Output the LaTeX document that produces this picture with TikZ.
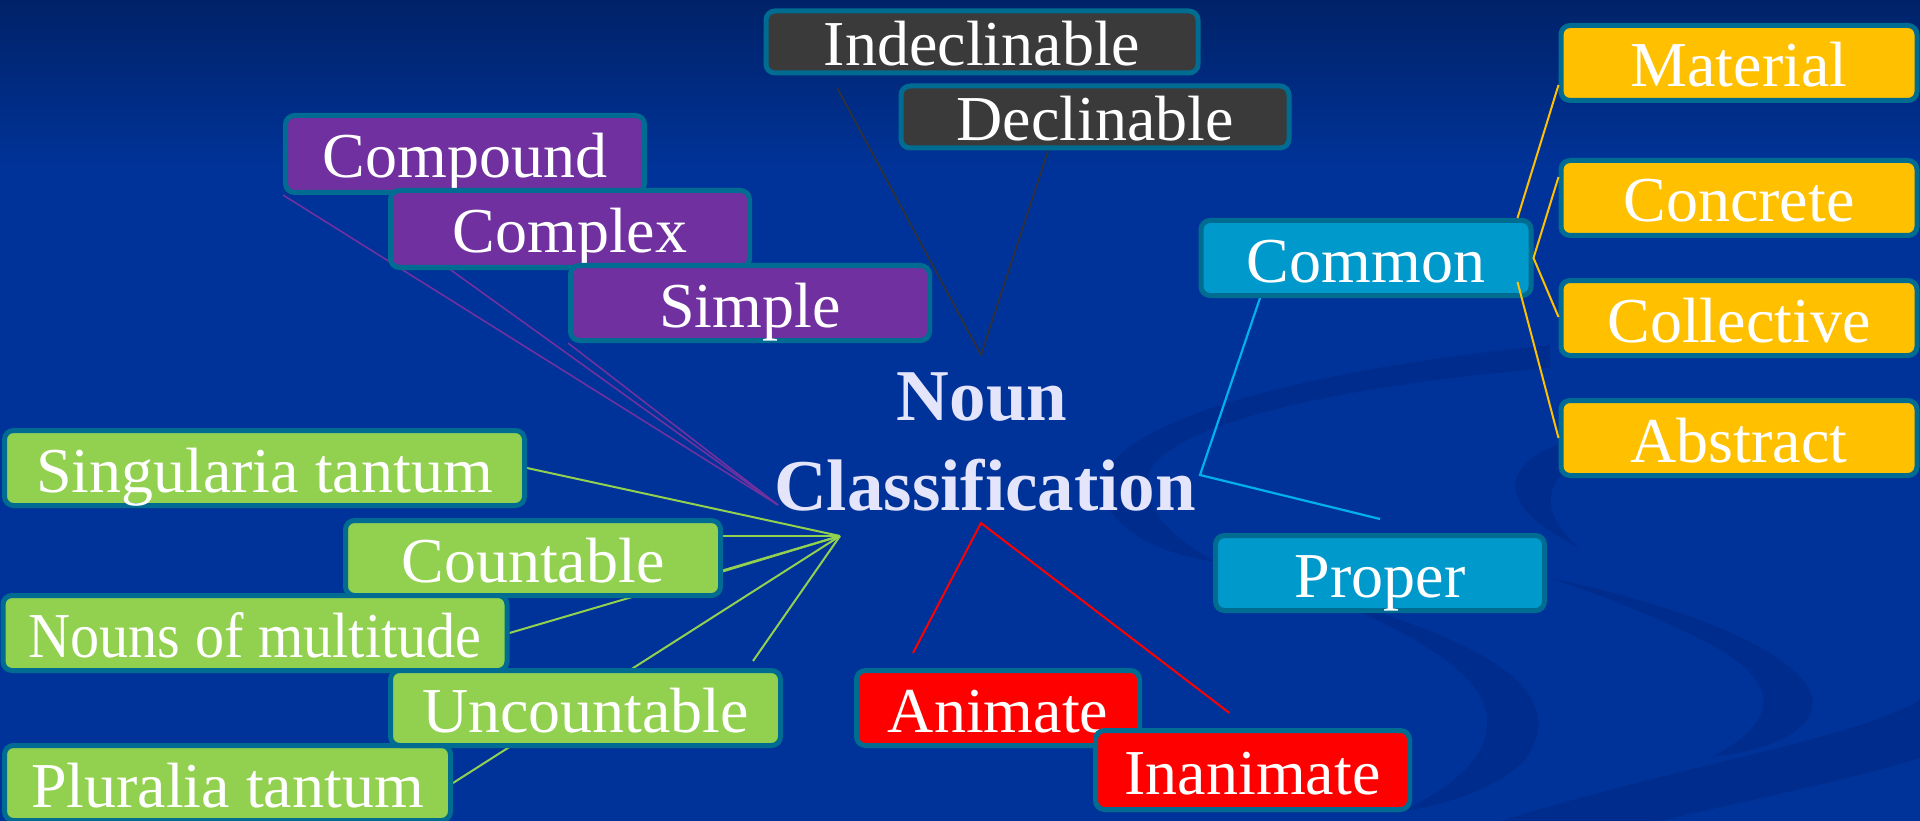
\documentclass[tikz,border=0pt]{standalone}
\usepackage{fontspec}
\setmainfont{Liberation Serif}
\usetikzlibrary{calc}
\pgfdeclarelayer{bg}
\pgfdeclarelayer{lines}
\pgfsetlayers{bg,lines,main}
\definecolor{bgblue}{RGB}{0,51,153}
\definecolor{bgtop}{RGB}{0,34,104}
\definecolor{swirlc}{RGB}{0,45,141}
\definecolor{bordc}{RGB}{0,108,145}
\definecolor{cgray}{RGB}{58,58,58}
\definecolor{cpurple}{RGB}{112,48,160}
\definecolor{cblue}{RGB}{0,153,204}
\definecolor{cyellow}{RGB}{255,192,0}
\definecolor{cgreen}{RGB}{146,208,80}
\definecolor{cred}{RGB}{255,0,0}
\definecolor{ccyan}{RGB}{0,176,240}
\definecolor{gline}{RGB}{50,50,50}
\definecolor{titlec}{RGB}{228,228,250}
\begin{document}
\begin{tikzpicture}[x=1pt,y=-1pt,
  box/.style={draw=bordc, line width=5pt, rounded corners=9pt, inner sep=0pt,
    text=white, font=\fontsize{64}{70}\selectfont, text height=48pt, text depth=0pt},
  ttl/.style={text=titlec, font=\fontsize{73}{80}\selectfont\bfseries, inner sep=0pt, anchor=base},
  swirl/.style={fill=swirlc},
  grayln/.style={draw=gline, line width=1.6pt},
  purpln/.style={draw=cpurple, line width=1.6pt},
  grnln/.style={draw=cgreen, line width=2pt},
  cyanln/.style={draw=ccyan, line width=2.2pt},
  redln/.style={draw=cred, line width=2pt},
  yelln/.style={draw=cyellow, line width=2pt}]
\useasboundingbox (0,0) rectangle (1920,821);
\begin{pgfonlayer}{bg}
  \fill[bgblue] (0,0) rectangle (1920,821);
  \shade[top color=bgtop, bottom color=bgblue] (0,0) rectangle (1920,170);
  % faint swirl shapes
  \path[swirl] (1550,345) .. controls (1250,375) and (1060,440) .. (1110,510)
     .. controls (1130,540) and (1170,555) .. (1215,562)
     .. controls (1160,530) and (1140,500) .. (1150,470)
     .. controls (1180,420) and (1350,385) .. (1550,368) -- cycle;
  \path[swirl] (1330,598) .. controls (1480,640) and (1575,690) .. (1525,760)
     .. controls (1495,790) and (1445,805) .. (1400,812)
     .. controls (1470,780) and (1500,740) .. (1482,700)
     .. controls (1462,660) and (1400,630) .. (1330,598) -- cycle;
  \path[swirl] (1610,430) .. controls (1500,450) and (1480,500) .. (1580,548)
     .. controls (1535,510) and (1540,470) .. (1610,448) -- cycle;
  \path[swirl] (1550,578) .. controls (1750,620) and (1870,690) .. (1785,738)
     .. controls (1765,748) and (1738,754) .. (1712,757)
     .. controls (1782,720) and (1782,680) .. (1702,640)
     .. controls (1652,615) and (1600,595) .. (1550,578) -- cycle;
  \path[swirl] (1500,821) .. controls (1700,760) and (1850,740) .. (1920,700)
     -- (1920,758) .. controls (1850,780) and (1750,800) .. (1660,821) -- cycle;
\end{pgfonlayer}

% title
\node[ttl] (nounT) at (982,420) {Noun};
\node[ttl] (classT) at (985,510) {Classification};

% boxes
\node[box, fill=cgray, minimum width=432pt, minimum height=62pt] (indecl) at (982,42) {Indeclinable};
\node[box, fill=cgray, minimum width=388pt, minimum height=62pt] (decl) at (1095,117) {Declinable};
\node[box, fill=cpurple, minimum width=359pt, minimum height=77pt] (compound) at (465,154) {Compound};
\node[box, fill=cpurple, minimum width=359pt, minimum height=77pt] (complex) at (570,229) {Complex};
\node[box, fill=cpurple, minimum width=359pt, minimum height=75pt] (simple) at (750,303) {Simple};
\node[box, fill=cblue, minimum width=330pt, minimum height=75pt] (common) at (1366,258) {Common};
\node[box, fill=cblue, minimum width=329pt, minimum height=75pt] (proper) at (1380,573) {Proper};
\node[box, fill=cyellow, minimum width=356pt, minimum height=75pt] (material) at (1739,63) {Material};
\node[box, fill=cyellow, minimum width=356pt, minimum height=75pt] (concrete) at (1739,198) {Concrete};
\node[box, fill=cyellow, minimum width=356pt, minimum height=75pt] (collective) at (1739,318) {Collective};
\node[box, fill=cyellow, minimum width=356pt, minimum height=75pt] (abstract) at (1739,438) {Abstract};
\node[box, fill=cgreen, minimum width=520pt, minimum height=75pt] (sing) at (264.5,468) {Singularia tantum};
\node[box, fill=cgreen, minimum width=375pt, minimum height=75pt] (count) at (533,558) {Countable};
\node[box, fill=cgreen, minimum width=504pt, minimum height=75pt] (nouns) at (255,633) {\scalebox{0.91}[1]{Nouns of multitude}};
\node[box, fill=cgreen, minimum width=446pt, minimum height=75pt] (plur) at (227.5,783) {Pluralia tantum};
\node[box, fill=cgreen, minimum width=390pt, minimum height=75pt] (uncount) at (585.5,708) {Uncountable};
\node[box, fill=cred, minimum width=283pt, minimum height=75pt] (animate) at (998,708) {Animate};
\node[box, fill=cred, minimum width=314pt, minimum height=79pt] (inanimate) at (1252.5,770) {Inanimate};

% hubs
\coordinate (hubG) at (981,355);
\coordinate (hubP) at (778,505);
\coordinate (hubL) at (840,536);
\coordinate (hubC) at (1200,475);
\coordinate (hubR) at (981,523);

\begin{pgfonlayer}{lines}
  \draw[grayln] ($(indecl.south west)+(74,13)$) -- (hubG) -- ($(decl.south west)+(150,-1)$);
  \draw[purpln] (compound.south west) -- (hubP);
  \draw[purpln] ($(complex.south west)+(60,-2)$) -- (hubP);
  \draw[purpln] (simple.south west) -- (hubP);
  \draw[grnln] (sing.east) -- (hubL);
  \draw[grnln] ($(count.east)+(0,-22)$) -- (hubL);
  \draw[grnln] ($(count.east)+(-2,14)$) -- (hubL);
  \draw[grnln] (nouns.east) -- (hubL);
  \draw[grnln] (plur.east) -- (hubL);
  \draw[grnln] ($(uncount.north east)+(-30,-7)$) -- (hubL);
  \draw[cyanln] ($(common.south)+(-106,0)$) -- (hubC) -- ($(proper.north)+(0,-14)$);
  \draw[redln] ($(animate.north)+(-85,-15)$) -- (hubR) -- ($(inanimate.north)+(-23,-15)$);
\end{pgfonlayer}

\draw[yelln] ($(material.west)+(0,22)$) -- ($(common.north east)+(-16,0)$);
\draw[yelln] ($(concrete.west)+(0,-21)$) -- (common.east) -- ($(collective.west)+(0,-1)$);
\draw[yelln] ($(abstract.west)$) -- ($(common.east)+(-16,24)$);
\end{tikzpicture}
\end{document}
